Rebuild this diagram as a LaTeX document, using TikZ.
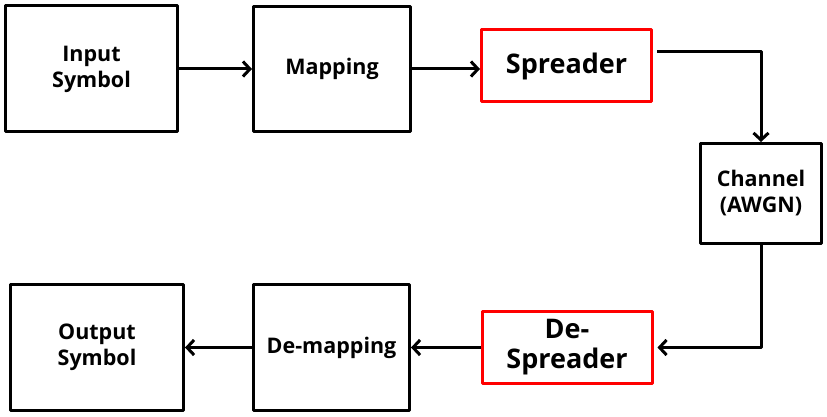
\documentclass[tikz,border=0pt]{standalone}
\usepackage{fontspec}
\setmainfont{Open Sans}
\usetikzlibrary{arrows.meta,calc}
\begin{document}
\begin{tikzpicture}[x=1pt,y=-1pt,line width=3pt,line join=round,>={Straight Barb[length=7pt,width=15pt]},font=\bfseries\fontsize{21.5}{26}\selectfont]
	\tikzset{blk/.style={draw,align=center,inner sep=0pt},
	redblk/.style={blk,draw=red,minimum width=170pt,minimum height=72pt,font=\bfseries\fontsize{27}{30}\selectfont}}
	\useasboundingbox(0,0)rectangle(827,417);
	\node[blk,minimum width=172pt,minimum height=126pt](inp)at(91.5,69){Input\\Symbol};
	\node[blk,minimum width=157pt,minimum height=125pt](map)at(332,69){Mapping};
	\node[redblk](spr)at(566.5,66){Spreader};
	\node[blk,minimum width=121pt,minimum height=100pt](chan)at(761,193.5){Channel\\(AWGN)};
	\node[redblk](dspr)at(567,347.5){De-\\Spreader};
	\node[blk,minimum width=156pt,minimum height=126pt](dmap)at(331.5,347.5){De-mapping};
	\node[blk,minimum width=173pt,minimum height=126pt](out)at(97,347.5){Output\\Symbol};
	\draw[->](inp)--(map);
	\draw[->](map)--(map-|spr.west);
	\draw[->]($(spr.north east)!0.31!(spr.south east)+(4,0)$)coordinate(sprout)-|(chan.north);
	\draw[->](chan.south)|-([xshift=4pt]dspr.east);
	\draw[->](dspr)--(dmap);
	\draw[->](dmap)--(out);
\end{tikzpicture}
\end{document}
